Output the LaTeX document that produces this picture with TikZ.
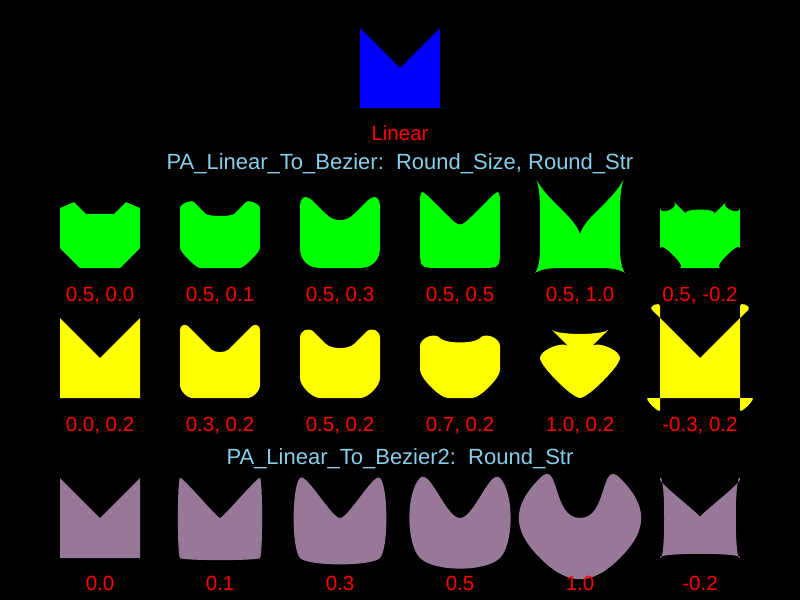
\documentclass[tikz,border=0pt]{standalone}
\usepackage{fontspec}
\setmainfont{Liberation Sans}
\usetikzlibrary{calc}
\definecolor{lblred}{HTML}{FF0000}
\definecolor{titleblue}{HTML}{87CEEB}
\definecolor{shapeblue}{HTML}{0000FF}
\definecolor{shapegreen}{HTML}{00FF00}
\definecolor{shapeyellow}{HTML}{FFFF00}
\definecolor{shapemauve}{HTML}{987898}

% corners cut and bent: centre x, centre y, round size, round strength, colour
\newcommand{\cornershape}[5]{%
  \begin{scope}[shift={(#1,#2)}]
    \pgfmathsetmacro{\rd}{40*(#3)}
    \pgfmathsetmacro{\rc}{\rd-2*(#4)*min(abs(\rd),20)}
    \coordinate (v0) at (0,0);
    \coordinate (v1) at (-40,-40);
    \coordinate (v2) at (-40,40);
    \coordinate (v3) at (40,40);
    \coordinate (v4) at (40,-40);
    \fill[#5] ($(v1)!\rd pt!(v0)$)
      \foreach \pv/\cv/\nv in {0/1/2,1/2/3,2/3/4,3/4/0,4/0/1}{
        -- ($(v\cv)!\rd pt!(v\pv)$)
        .. controls ($(v\cv)!\rc pt!(v\pv)$) and ($(v\cv)!\rc pt!(v\nv)$)
        .. ($(v\cv)!\rd pt!(v\nv)$)
      } -- cycle;
  \end{scope}}

% smooth curve through the corners: centre x, centre y, round strength, colour
\newcommand{\smoothshape}[4]{%
  \begin{scope}[shift={(#1,#2)}]
    \pgfmathsetmacro{\ra}{56.57*(#3)/2}
    \pgfmathsetmacro{\rb}{40*(#3)/2}
    \fill[#4] (-40,-40)
      .. controls ({-40-(\ra)},{-40+(\ra)}) and ({-40-(\ra)},{40-(\ra)}) .. (-40,40)
      .. controls ({-40+(\ra)},{40+(\ra)}) and ({40-(\ra)},{40+(\ra)}) .. (40,40)
      .. controls ({40+(\ra)},{40-(\ra)}) and ({40+(\ra)},{-40+(\ra)}) .. (40,-40)
      .. controls ({40-(\rb)},{-40-(\rb)}) and ({\ra},0) .. (0,0)
      .. controls ({0-(\ra)},0) and ({-40+(\rb)},{-40-(\rb)}) .. cycle;
  \end{scope}}

\begin{document}
\begin{tikzpicture}[
    x=1pt, y=-1pt,
    every node/.style={font=\fontsize{20.5}{24}\selectfont, anchor=base, inner sep=0pt},
    lbl/.style={text=lblred},
    ttl/.style={text=titleblue, font=\fontsize{22}{26}\selectfont},
  ]
  \fill[black] (0,0) rectangle (800,600);

  % linear original
  \cornershape{400}{68}{0}{0}{shapeblue}
  \node[lbl] (linear) at (400,140) {Linear};
  \node[ttl] (title1) at (400,169) {PA\_Linear\_To\_Bezier:\ \ Round\_Size, Round\_Str};

  % size 0.5, strength varies
  \foreach \x/\st in {100/0.0,220/0.1,340/0.3,460/0.5,580/1.0,700/-0.2} {
    \cornershape{\x}{228}{0.5}{\st}{shapegreen}
    \node[lbl] (one-\x) at (\x,301) {0.5, \st};
  }

  % strength 0.2, size varies
  \foreach \x/\sz in {100/0.0,220/0.3,340/0.5,460/0.7,580/1.0,700/-0.3} {
    \cornershape{\x}{358}{\sz}{0.2}{shapeyellow}
    \node[lbl] (two-\x) at (\x,431) {\sz, 0.2};
  }

  \node[ttl] (title2) at (400,464) {PA\_Linear\_To\_Bezier2:\ \ Round\_Str};

  % second variant
  \foreach \x/\st in {100/0.0,220/0.1,340/0.3,460/0.5,580/1.0,700/-0.2} {
    \smoothshape{\x}{518}{\st}{shapemauve}
    \node[lbl] (three-\x) at (\x,590) {\st};
  }
\end{tikzpicture}
\end{document}
